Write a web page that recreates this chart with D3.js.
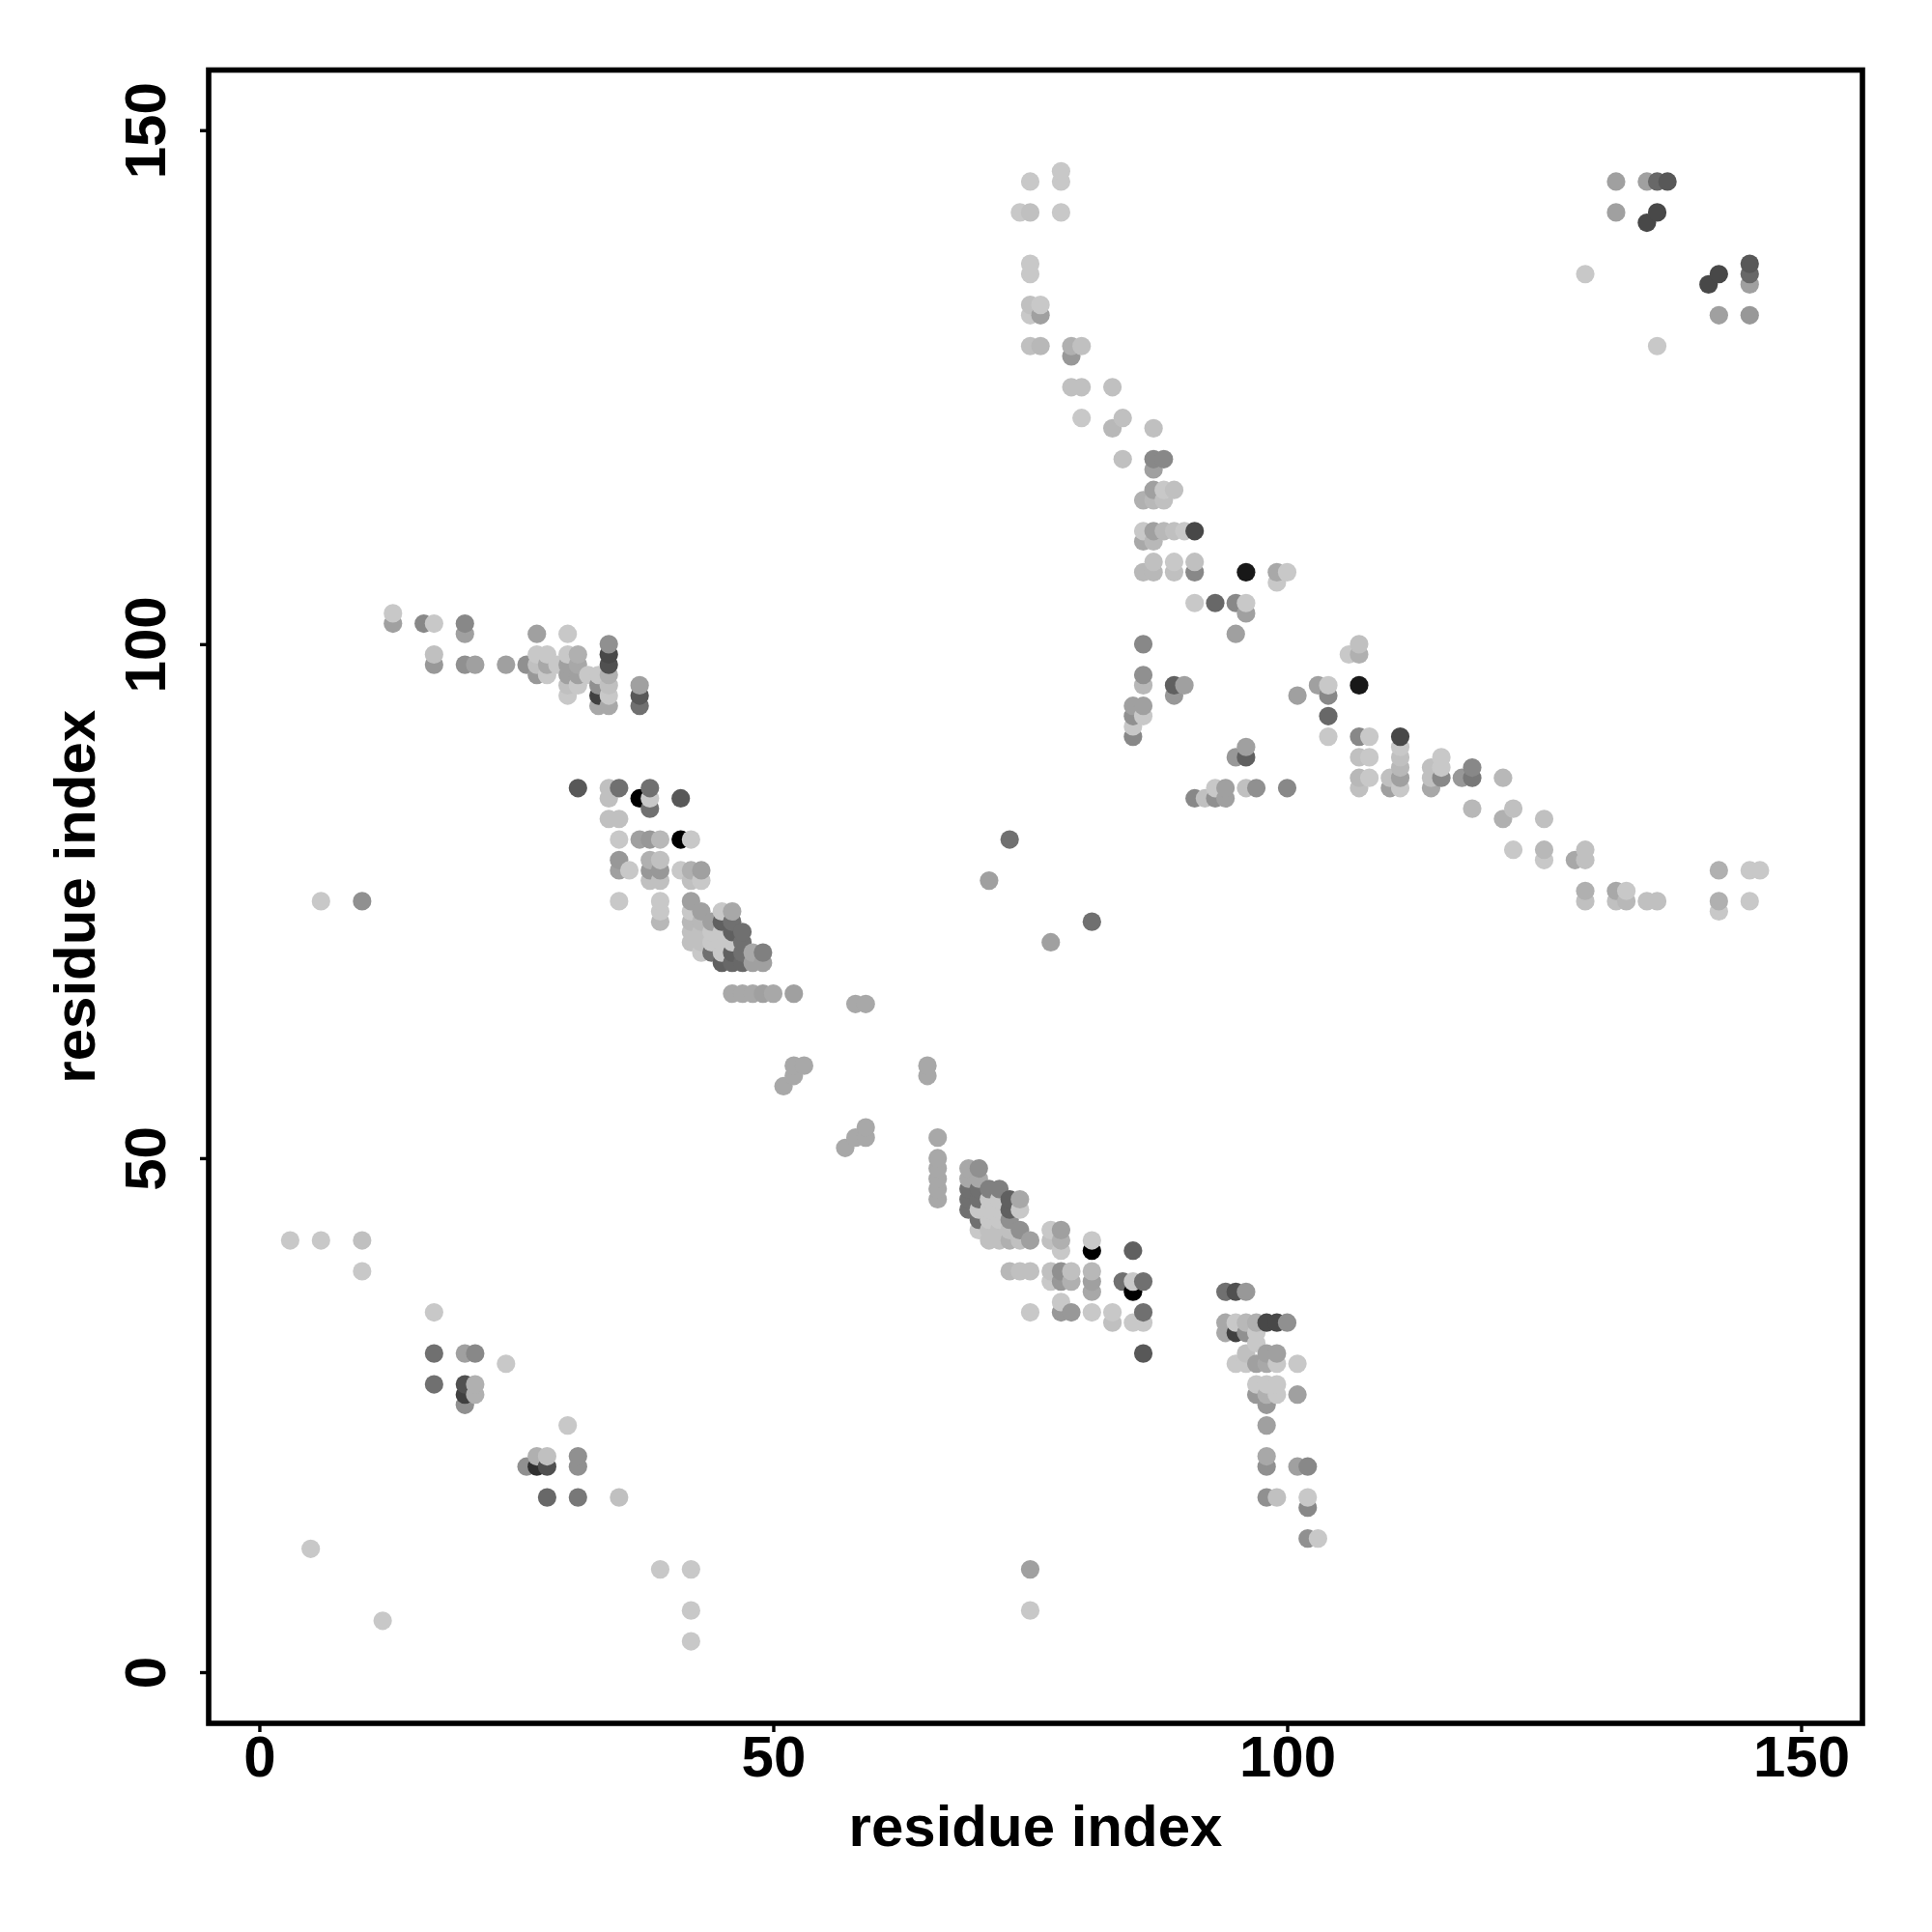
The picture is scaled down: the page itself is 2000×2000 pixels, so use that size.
<!DOCTYPE html>
<html>
<head>
<meta charset="utf-8">
<script src="https://cdn.jsdelivr.net/npm/d3@7"></script>
<style>
html,body{margin:0;padding:0;background:#fff}
svg{display:block}
text{font-family:"Liberation Sans",Arial,sans-serif;font-weight:700;fill:#000}
</style>
</head>
<body>
<div id="chart"></div>
<script>
const xTicks = [0, 50, 100, 150];
const yTicks = [0, 50, 100, 150];
const xTitle = "residue index";
const yTitle = "residue index";

// [residue i, residue j, contact level 0 (weak) .. 25 (strong)]
const contactsLower = [
[3,42,0],[6,42,0],[10,42,1],[10,39,0],[17,35,0],[17,31,11],[20,31,5],[21,31,8],[24,30,0],
[17,28,11],[20,28,15],[21,28,3],[20,27,17],[21,27,3],[20,26,7],[30,24,0],
[27,21,3],[28,21,1],[31,21,7],[26,20,7],[27,20,19],[28,20,15],[31,20,7],
[28,17,12],[31,17,10],[35,17,1],[5,12,0],[12,5,0],[39,10,0],[42,10,0],[42,6,0],[42,3,0],
[75,10,5],[75,6,0],
[57,51,4],[58,52,4],[59,52,4],[59,53,4],
[66,52,4],[66,50,4],[66,49,4],[66,48,4],[66,47,4],[66,46,4],
[69,49,4],[70,49,7],[69,48,4],[70,48,4],
[69,47,11],[70,47,11],[71,47,9],[72,47,9],
[69,46,11],[70,46,11],[71,46,0],[72,46,0],[73,46,13],[74,46,4],
[69,45,11],[70,45,0],[71,45,0],[72,45,0],[73,45,13],[74,45,0],
[70,44,11],[71,44,0],[72,44,0],[73,44,7],
[70,43,0],[71,43,1],[72,43,1],[73,43,1],[74,43,7],[77,43,0],[78,43,5],
[71,42,1],[72,42,1],[73,42,3],[74,42,1],[75,42,5],[77,42,1],[78,42,3],[81,42,0],
[78,41,0],[81,41,25],[85,41,13],
[73,39,2],[74,39,1],[75,39,1],[77,39,1],[78,39,7],[79,39,1],[81,39,2],
[77,38,0],[78,38,6],[79,38,3],[81,38,5],[84,38,11],[85,38,0],[86,38,11],
[81,37,4],[85,37,25],[78,36,0],
[75,35,0],[78,35,6],[79,35,6],[81,35,0],[83,35,0],[86,35,11],
[83,34,1],[85,34,0],[86,34,0],[86,31,14],
[94,37,11],[95,37,15],[96,37,6],
[94,34,4],[95,34,0],[96,34,2],[97,34,3],[98,34,16],[99,34,16],[100,34,7],
[94,33,4],[95,33,17],[96,33,7],[97,33,0],[97,32,0],
[96,31,1],[98,31,5],[99,31,5],
[95,30,0],[96,30,0],[97,30,5],[98,30,4],[99,30,0],[101,30,0],
[97,28,0],[98,28,0],[99,28,0],
[97,27,6],[98,27,3],[99,27,0],[101,27,5],
[98,26,6],[98,24,5],[98,21,4],[98,20,7],[101,20,5],[102,20,8],
[98,17,7],[99,17,1],[102,17,0],[102,16,8],[102,13,7],[103,13,0]
];

const contactsUpper = [
[13,103,0],[13,102,5],[16,102,8],[17,102,0],[20,102,8],[20,101,5],
[17,99,1],[17,98,6],[20,98,7],[21,98,5],[24,98,5],[26,98,7],
[27,101,5],[27,99,0],[27,98,1],[27,97,6],
[28,99,0],[28,98,4],[28,97,0],[29,98,0],
[30,101,0],[30,99,0],[30,98,5],[30,97,5],[30,96,1],[30,95,0],
[31,99,3],[31,98,4],[31,97,5],[31,96,0],[32,97,0],
[33,97,0],[33,96,7],[33,95,17],[33,94,4],
[34,100,7],[34,99,16],[34,98,15],[34,97,3],[34,96,1],[34,95,0],[34,94,4],
[37,96,5],[37,95,14],[37,94,11],
[31,86,14],[34,86,1],[35,86,11],[34,85,1],[34,83,1],[35,83,1],
[35,81,0],[37,81,5],[38,81,6],[39,81,2],[41,81,25],[42,81,0],
[37,85,25],[38,86,11],[38,85,0],[38,84,11],[41,85,14],
[35,79,6],[38,79,3],[39,79,1],
[35,78,5],[36,78,0],[38,78,6],[39,78,6],[41,78,0],[42,78,3],[43,78,5],
[38,77,1],[39,77,1],[42,77,1],[43,77,0],
[35,75,0],[39,75,0],[42,75,5],
[39,74,0],[42,74,0],[43,74,5],[45,74,0],[46,74,4],
[39,73,2],[42,73,2],[43,73,2],[44,73,5],[45,73,13],[46,73,11],
[42,72,1],[43,72,1],[44,72,0],[45,72,0],[46,72,13],[47,72,11],
[42,71,1],[43,71,1],[44,71,0],[45,71,0],[46,71,0],[47,71,11],
[43,70,0],[44,70,11],[45,70,0],[46,70,13],[47,70,11],[48,70,4],[49,70,9],
[45,69,13],[46,69,12],[47,69,12],[48,69,5],[49,69,5],
[46,66,4],[47,66,4],[48,66,4],[49,66,5],[50,66,4],[52,66,5],
[58,65,4],[59,65,4],[65,59,4],[65,58,4],
[51,57,4],[52,58,4],[52,59,4],[53,59,4],
[6,75,0],[10,75,7],[71,77,5],[73,81,11],[77,71,5],[81,73,11],
[75,145,0],[78,146,0],[78,145,0],[78,142,0],[74,142,0],[75,142,1],
[75,137,0],[75,136,0],[75,133,1],[76,133,0],[75,132,0],[76,132,5],
[75,129,1],[76,129,2],[79,129,3],[80,129,1],[79,128,6],
[79,125,1],[80,125,1],[83,125,1],[80,122,0],[83,121,2],[84,122,1],[87,121,1],
[84,118,1],[87,118,8],[88,118,8],[87,117,5],
[87,115,5],[88,115,0],[89,115,1],[86,114,3],[87,114,2],[88,114,1],
[86,111,0],[87,111,5],[88,111,2],[89,111,1],[90,111,0],[91,111,16],
[86,110,4],[87,110,2],
[87,108,1],[89,108,0],[91,108,1],
[86,107,2],[87,107,2],[89,107,1],[91,107,8],[96,107,22],[99,107,4],[100,107,0],[99,106,0],
[91,104,0],[93,104,12],[95,104,8],[96,104,0],[96,103,5],[95,101,5],
[86,100,8],[86,97,7],[86,96,2],[89,96,13],[90,96,5],[89,95,6],
[85,94,5],[86,94,5],[85,93,7],[86,93,0],[85,92,0],[85,91,8],
[101,95,5],[103,96,5],[104,96,0],[104,95,8],[104,93,12],[104,91,0],
[106,99,0],[107,100,1],[107,99,3],[107,96,22],
[107,91,8],[108,91,0],[111,91,16],[111,90,0],
[107,89,1],[108,89,0],[111,89,1],[115,89,0],
[111,88,2],[114,88,1],[115,88,0],[118,88,8],
[107,87,2],[108,87,0],[110,87,1],[111,87,5],[114,87,1],[115,87,8],[117,87,6],[118,87,10],[121,87,2],
[107,86,1],[110,86,5],[111,86,0],[114,86,4],
[96,90,5],[95,89,6],[96,89,13],
[93,86,0],[94,86,5],[96,86,1],[97,86,7],[100,86,8],
[91,85,8],[92,85,1],[93,85,7],[94,85,5],
[118,84,2],[122,84,1],[121,83,3],[125,83,1],
[122,80,0],[125,80,2],[129,80,1],[125,79,0],[128,79,4],[129,79,1],
[142,78,3],[145,78,0],[146,78,0],
[129,76,3],[132,76,4],[133,76,0],
[129,75,1],[132,75,1],[133,75,2],[135,75,1],[136,75,1],[142,75,3],[145,75,0],[142,74,0],
[132,145,5],[135,145,5],[136,145,12],[137,145,14],[132,142,5],[136,142,16],[135,141,16],
[129,136,0],[142,136,16],[141,135,16],[145,137,14],[145,136,12],[145,135,5],
[142,132,5],[145,132,6],[136,129,0]
];

const contacts = d3.sort(contactsLower.concat(contactsUpper),
  (a, b) => d3.ascending(a[0], b[0]) || d3.ascending(a[1], b[1]));

const width = 2000, height = 2000;
const frame = {left: 216, right: 1928, top: 72.5, bottom: 1784};

const x = d3.scaleLinear().domain([-4.93, 155.97]).range([frame.left, frame.right]);
const y = d3.scaleLinear().domain([-4.98, 155.85]).range([frame.bottom, frame.top]);
const grey = d3.scaleLinear().domain([0, 25]).range([200, 0]);

const svg = d3.select("#chart").append("svg")
  .attr("width", width).attr("height", height).attr("viewBox", [0, 0, width, height]);

svg.append("g").selectAll("circle").data(contacts).join("circle")
  .attr("cx", d => x(d[0]))
  .attr("cy", d => y(d[1]))
  .attr("r", 9.6)
  .attr("fill", d => { const g = Math.round(grey(d[2])); return d3.rgb(g, g, g); });

svg.append("rect")
  .attr("x", frame.left).attr("y", frame.top)
  .attr("width", frame.right - frame.left).attr("height", frame.bottom - frame.top)
  .attr("fill", "none").attr("stroke", "#000").attr("stroke-width", 5.6);

const gx = svg.append("g").attr("transform", `translate(0,${frame.bottom})`)
  .call(d3.axisBottom(x).tickValues(xTicks).tickSize(9).tickFormat(d3.format("d")));
gx.select(".domain").remove();
gx.selectAll("line").attr("stroke", "#000").attr("stroke-width", 3.4);
gx.selectAll("text").attr("y", 55).attr("dy", 0).attr("font-size", 60).attr("text-anchor", "middle");

const gy = svg.append("g").attr("transform", `translate(${frame.left},0)`)
  .call(d3.axisLeft(y).tickValues(yTicks).tickSize(9).tickFormat(d3.format("d")));
gy.select(".domain").remove();
gy.selectAll("line").attr("stroke", "#000").attr("stroke-width", 3.4);
gy.selectAll("text").attr("x", null).attr("dy", null)
  .attr("transform", "translate(-45,0) rotate(-90)")
  .attr("x", 0).attr("y", 0)
  .attr("font-size", 60).attr("text-anchor", "middle");

svg.append("text").attr("x", (frame.left + frame.right) / 2).attr("y", 1911)
  .attr("text-anchor", "middle").attr("font-size", 60).text(xTitle);
svg.append("text").attr("transform", `translate(98,${(frame.top + frame.bottom) / 2}) rotate(-90)`)
  .attr("text-anchor", "middle").attr("font-size", 60).text(yTitle);
</script>
</body>
</html>
